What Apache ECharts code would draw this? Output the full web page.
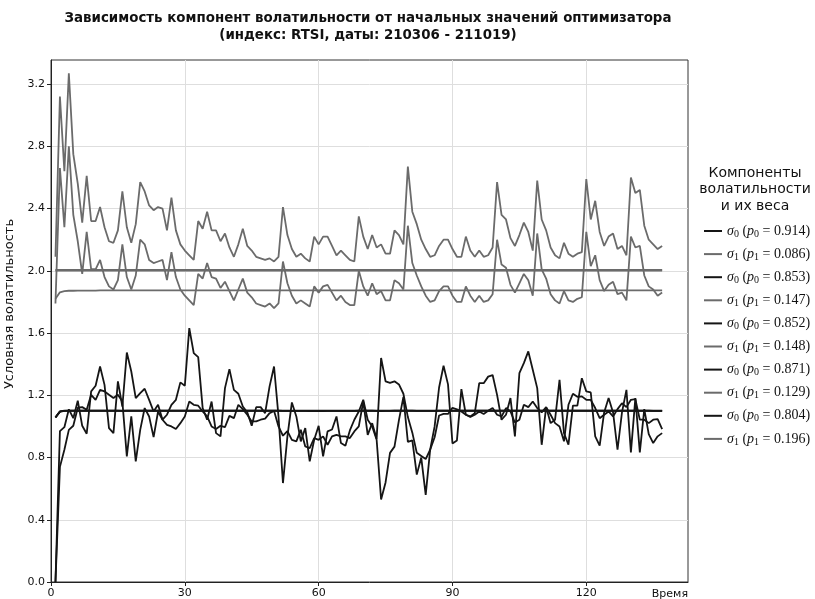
<!DOCTYPE html>
<html>
<head>
<meta charset="utf-8">
<script src="https://cdn.jsdelivr.net/npm/echarts@6/dist/echarts.min.js"></script>
<style>
  html, body { margin: 0; padding: 0; background: #ffffff; }
  #chart { width: 815px; height: 599px; }
</style>
</head>
<body>
<div id="chart"></div>
<script>
// Axis ticks
const xTicks = [0, 30, 60, 90, 120];
const yTicks = [0, 0.4, 0.8, 1.2, 1.6, 2.0, 2.4, 2.8, 3.2];

// Component weights per optimizer start
const weightsP0 = ['0.914', '0.853', '0.852', '0.871', '0.804'];
const weightsP1 = ['0.086', '0.147', '0.148', '0.129', '0.196'];

// σ0, run 1 (p0 = 0.914)
const sigma0Run1 = [
  1.057,1.095,1.100,1.101,1.101,1.102,1.101,1.101,1.101,1.102,
  1.102,1.101,1.101,1.101,1.101,1.100,1.101,1.101,1.101,1.101,
  1.101,1.101,1.101,1.101,1.101,1.101,1.101,1.102,1.102,1.102,
  1.102,1.102,1.102,1.101,1.101,1.101,1.101,1.101,1.101,1.101,
  1.101,1.101,1.101,1.101,1.101,1.101,1.101,1.101,1.101,1.102,
  1.101,1.100,1.100,1.100,1.100,1.100,1.100,1.099,1.099,1.100,
  1.099,1.100,1.100,1.100,1.100,1.100,1.100,1.100,1.101,1.101,
  1.101,1.101,1.100,1.099,1.100,1.100,1.101,1.101,1.101,1.101,
  1.101,1.100,1.100,1.100,1.100,1.100,1.101,1.101,1.101,1.101,
  1.101,1.101,1.101,1.101,1.101,1.101,1.101,1.102,1.102,1.101,
  1.101,1.101,1.101,1.101,1.101,1.102,1.102,1.102,1.101,1.101,
  1.101,1.101,1.101,1.101,1.101,1.101,1.101,1.101,1.102,1.101,
  1.101,1.101,1.101,1.101,1.101,1.101,1.101,1.101,1.101,1.101,
  1.101,1.101,1.101,1.101,1.100,1.100,1.100
];
// σ1, run 1 (p1 = 0.086)
const sigma1Run1 = [
  2.006,2.006,2.006,2.006,2.006,2.006,2.006,2.006,2.006,2.006,
  2.006,2.006,2.006,2.006,2.006,2.006,2.006,2.006,2.006,2.006,
  2.006,2.006,2.006,2.006,2.006,2.006,2.006,2.006,2.006,2.006,
  2.006,2.006,2.006,2.006,2.006,2.006,2.006,2.006,2.006,2.006,
  2.006,2.006,2.006,2.006,2.006,2.006,2.006,2.006,2.006,2.006,
  2.006,2.006,2.006,2.006,2.006,2.006,2.006,2.006,2.006,2.006,
  2.006,2.006,2.006,2.006,2.006,2.006,2.006,2.006,2.006,2.006,
  2.006,2.006,2.006,2.006,2.006,2.006,2.006,2.006,2.006,2.006,
  2.006,2.006,2.006,2.006,2.006,2.006,2.006,2.006,2.006,2.006,
  2.006,2.006,2.006,2.006,2.006,2.006,2.006,2.006,2.006,2.006,
  2.006,2.006,2.006,2.006,2.006,2.006,2.006,2.006,2.006,2.006,
  2.006,2.006,2.006,2.006,2.006,2.006,2.006,2.006,2.006,2.006,
  2.006,2.006,2.006,2.006,2.006,2.006,2.006,2.006,2.006,2.006,
  2.006,2.006,2.006,2.006,2.006,2.006,2.006
];

// σ0, run 2 (p0 = 0.853)
const sigma0Run2 = [
  0,0.97,0.995,1.11,1.053,1.165,1.004,0.953,1.225,1.261,
  1.385,1.267,0.989,0.957,1.289,1.128,1.475,1.353,1.182,1.214,
  1.242,1.171,1.096,1.139,1.043,1.075,1.139,1.171,1.283,1.261,
  1.632,1.471,1.445,1.118,1.043,1.16,0.957,0.936,1.246,1.368,
  1.235,1.21,1.128,1.09,1.004,1.124,1.124,1.085,1.257,1.385,
  1.064,0.636,0.936,1.154,1.064,0.904,0.989,0.775,0.914,1.004,
  0.807,0.968,0.98,1.064,0.893,0.876,0.974,1.043,1.096,1.171,
  1.043,1.0,0.914,0.53,0.64,0.83,0.87,1.04,1.19,0.9,
  0.91,0.69,0.8,0.56,0.85,1.0,1.25,1.39,1.27,0.89,
  0.91,1.24,1.075,1.064,1.085,1.278,1.278,1.32,1.33,1.203,
  1.043,1.075,1.182,0.936,1.342,1.407,1.482,1.364,1.246,0.882,
  1.124,1.021,1.043,1.3,0.957,0.882,1.133,1.133,1.31,1.225,
  1.218,0.936,0.876,1.09,1.182,1.09,0.85,1.09,1.235,0.833,
  1.182,0.833,1.111,0.95,0.893,0.936,0.957
];
// σ1, run 2 (p1 = 0.147)
const sigma1Run2 = [
  2.09,3.12,2.64,3.27,2.75,2.56,2.31,2.61,2.32,2.32,
  2.41,2.28,2.19,2.18,2.26,2.51,2.28,2.18,2.30,2.57,
  2.51,2.42,2.39,2.41,2.40,2.26,2.47,2.26,2.17,2.13,
  2.10,2.07,2.32,2.27,2.38,2.26,2.26,2.19,2.24,2.15,
  2.09,2.17,2.27,2.16,2.13,2.09,2.08,2.07,2.08,2.06,
  2.09,2.41,2.23,2.14,2.09,2.11,2.08,2.06,2.22,2.17,
  2.22,2.22,2.16,2.10,2.13,2.10,2.07,2.06,2.35,2.22,
  2.14,2.23,2.15,2.17,2.11,2.11,2.26,2.23,2.17,2.67,
  2.38,2.30,2.20,2.14,2.09,2.10,2.16,2.20,2.20,2.14,
  2.09,2.09,2.22,2.13,2.09,2.13,2.09,2.10,2.15,2.57,
  2.36,2.33,2.21,2.16,2.23,2.31,2.25,2.13,2.58,2.33,
  2.26,2.15,2.10,2.08,2.18,2.11,2.09,2.11,2.12,2.59,
  2.33,2.45,2.25,2.16,2.22,2.24,2.14,2.16,2.10,2.60,
  2.50,2.52,2.29,2.20,2.17,2.14,2.16
];

// σ0, run 3 (p0 = 0.852)
const sigma0Run3 = [
  0,0.74,0.85,0.978,1.004,1.12,1.124,1.107,1.203,1.171,
  1.235,1.225,1.203,1.182,1.203,1.16,0.807,1.064,0.775,0.978,
  1.118,1.064,0.931,1.096,1.043,1.01,1.0,0.983,1.021,1.064,
  1.16,1.139,1.133,1.096,1.064,1.0,0.983,1.004,0.995,1.068,
  1.053,1.139,1.111,1.075,1.032,1.032,1.043,1.05,1.085,1.1,
  1.0,0.94,0.97,0.914,0.904,0.978,0.871,0.86,0.925,0.914,
  0.936,0.882,0.936,0.946,0.936,0.936,0.925,0.968,1.0,1.16,
  0.946,1.021,0.92,1.44,1.29,1.28,1.29,1.27,1.21,1.06,
  0.96,0.83,0.81,0.79,0.85,0.93,1.07,1.08,1.08,1.12,
  1.11,1.096,1.075,1.06,1.075,1.096,1.08,1.1,1.118,1.075,
  1.064,1.118,1.096,1.025,1.043,1.139,1.124,1.16,1.118,1.09,
  1.124,1.075,1.021,1.0,0.904,1.139,1.21,1.19,1.193,1.171,
  1.171,1.118,1.053,1.075,1.096,1.064,1.111,1.149,1.124,1.171,
  1.175,1.043,1.043,1.021,1.043,1.047,0.983
];
// σ1, run 3 (p1 = 0.148)
const sigma1Run3 = [
  1.79,2.66,2.28,2.80,2.36,2.19,1.98,2.25,2.01,2.01,
  2.07,1.96,1.90,1.88,1.94,2.17,1.96,1.88,1.97,2.20,
  2.17,2.07,2.05,2.06,2.07,1.94,2.12,1.96,1.88,1.84,
  1.81,1.78,1.98,1.95,2.05,1.96,1.95,1.89,1.93,1.87,
  1.81,1.88,1.95,1.86,1.83,1.79,1.78,1.77,1.79,1.76,
  1.79,2.06,1.92,1.84,1.79,1.81,1.79,1.77,1.90,1.86,
  1.90,1.91,1.86,1.81,1.84,1.80,1.78,1.78,2.00,1.90,
  1.84,1.92,1.85,1.87,1.81,1.81,1.94,1.92,1.88,2.29,
  2.05,1.97,1.90,1.84,1.80,1.81,1.87,1.90,1.90,1.84,
  1.80,1.80,1.90,1.84,1.80,1.84,1.80,1.81,1.85,2.20,
  2.04,2.02,1.91,1.86,1.92,1.98,1.94,1.84,2.24,2.01,
  1.95,1.85,1.81,1.79,1.87,1.81,1.80,1.82,1.83,2.25,
  2.03,2.10,1.94,1.87,1.91,1.93,1.85,1.86,1.81,2.22,
  2.15,2.16,1.97,1.90,1.88,1.84,1.86
];

// σ0, run 4 (p0 = 0.871)
const sigma0Run4 = [
  1.058,1.096,1.101,1.101,1.101,1.101,1.101,1.101,1.101,1.101,
  1.101,1.101,1.101,1.101,1.101,1.101,1.101,1.101,1.101,1.101,
  1.101,1.101,1.101,1.101,1.101,1.101,1.101,1.101,1.101,1.101,
  1.101,1.101,1.101,1.101,1.101,1.101,1.101,1.101,1.101,1.101,
  1.101,1.101,1.101,1.101,1.101,1.101,1.101,1.101,1.101,1.101,
  1.101,1.101,1.101,1.101,1.101,1.101,1.101,1.101,1.101,1.101,
  1.101,1.101,1.101,1.101,1.101,1.101,1.101,1.101,1.101,1.101,
  1.101,1.101,1.101,1.101,1.101,1.101,1.101,1.101,1.101,1.101,
  1.101,1.101,1.101,1.101,1.101,1.101,1.101,1.101,1.101,1.101,
  1.101,1.101,1.101,1.101,1.101,1.101,1.101,1.101,1.101,1.101,
  1.101,1.101,1.101,1.101,1.101,1.101,1.101,1.101,1.101,1.101,
  1.101,1.101,1.101,1.101,1.101,1.101,1.101,1.101,1.101,1.101,
  1.101,1.101,1.101,1.101,1.101,1.101,1.101,1.101,1.101,1.101,
  1.101,1.101,1.101,1.101,1.101,1.101,1.101
];
// σ1, run 4 (p1 = 0.129)
const sigma1Run4 = [
  2.002,2.002,2.002,2.002,2.002,2.002,2.002,2.002,2.002,2.002,
  2.002,2.002,2.002,2.002,2.002,2.002,2.002,2.002,2.002,2.002,
  2.002,2.002,2.002,2.002,2.002,2.002,2.002,2.002,2.002,2.002,
  2.002,2.002,2.002,2.002,2.002,2.002,2.002,2.002,2.002,2.002,
  2.002,2.002,2.002,2.002,2.002,2.002,2.002,2.002,2.002,2.002,
  2.002,2.002,2.002,2.002,2.002,2.002,2.002,2.002,2.002,2.002,
  2.002,2.002,2.002,2.002,2.002,2.002,2.002,2.002,2.002,2.002,
  2.002,2.002,2.002,2.002,2.002,2.002,2.002,2.002,2.002,2.002,
  2.002,2.002,2.002,2.002,2.002,2.002,2.002,2.002,2.002,2.002,
  2.002,2.002,2.002,2.002,2.002,2.002,2.002,2.002,2.002,2.002,
  2.002,2.002,2.002,2.002,2.002,2.002,2.002,2.002,2.002,2.002,
  2.002,2.002,2.002,2.002,2.002,2.002,2.002,2.002,2.002,2.002,
  2.002,2.002,2.002,2.002,2.002,2.002,2.002,2.002,2.002,2.002,
  2.002,2.002,2.002,2.002,2.002,2.002,2.002
];

// σ0, run 5 (p0 = 0.804)
const sigma0Run5 = [
  1.057,1.095,1.100,1.100,1.100,1.100,1.100,1.100,1.100,1.100,
  1.100,1.100,1.100,1.100,1.100,1.100,1.100,1.100,1.100,1.100,
  1.100,1.100,1.100,1.100,1.100,1.100,1.100,1.100,1.100,1.100,
  1.100,1.100,1.100,1.100,1.100,1.100,1.100,1.100,1.100,1.100,
  1.100,1.100,1.100,1.100,1.100,1.100,1.100,1.100,1.100,1.100,
  1.100,1.100,1.100,1.100,1.100,1.100,1.100,1.100,1.100,1.100,
  1.100,1.100,1.100,1.100,1.100,1.100,1.100,1.100,1.100,1.100,
  1.100,1.100,1.100,1.100,1.100,1.100,1.100,1.100,1.100,1.100,
  1.100,1.100,1.100,1.100,1.100,1.100,1.100,1.100,1.100,1.100,
  1.100,1.100,1.100,1.100,1.100,1.100,1.100,1.100,1.100,1.100,
  1.100,1.100,1.100,1.100,1.100,1.100,1.100,1.100,1.100,1.100,
  1.100,1.100,1.100,1.100,1.100,1.100,1.100,1.100,1.100,1.100,
  1.100,1.100,1.100,1.100,1.100,1.100,1.100,1.100,1.100,1.100,
  1.100,1.100,1.100,1.100,1.100,1.100,1.100
];
// σ1, run 5 (p1 = 0.196)
const sigma1Run5 = [
  1.820,1.862,1.870,1.872,1.872,1.873,1.873,1.873,1.873,1.873,
  1.874,1.874,1.874,1.874,1.874,1.874,1.874,1.874,1.874,1.874,
  1.874,1.874,1.874,1.874,1.874,1.874,1.874,1.874,1.874,1.874,
  1.874,1.874,1.874,1.874,1.874,1.874,1.874,1.874,1.874,1.874,
  1.874,1.874,1.874,1.874,1.874,1.874,1.874,1.874,1.874,1.874,
  1.874,1.874,1.874,1.874,1.874,1.874,1.874,1.874,1.874,1.874,
  1.874,1.874,1.874,1.874,1.874,1.874,1.874,1.874,1.874,1.874,
  1.874,1.874,1.874,1.874,1.874,1.874,1.874,1.874,1.874,1.874,
  1.874,1.874,1.874,1.874,1.874,1.874,1.874,1.874,1.874,1.874,
  1.874,1.874,1.874,1.874,1.874,1.874,1.874,1.874,1.874,1.874,
  1.874,1.874,1.874,1.874,1.874,1.874,1.874,1.874,1.874,1.874,
  1.874,1.874,1.874,1.874,1.874,1.874,1.874,1.874,1.874,1.874,
  1.874,1.874,1.874,1.874,1.874,1.874,1.874,1.874,1.874,1.874,
  1.874,1.874,1.874,1.874,1.874,1.874,1.874
];

const runsSigma0 = [sigma0Run1, sigma0Run2, sigma0Run3, sigma0Run4, sigma0Run5];
const runsSigma1 = [sigma1Run1, sigma1Run2, sigma1Run3, sigma1Run4, sigma1Run5];

const COLOR_S0 = '#151515';
const COLOR_S1 = '#6b6b6b';
const FONT = 'DejaVu Sans';
const MATH_FONT = 'Liberation Serif';

// time index starts at 1
const toPoints = arr => arr.map((v, i) => [i + 1, v]);

const series = [];
const legendMeta = {};
for (let r = 0; r < 5; r++) {
  const pairs = [
    { comp: 0, w: weightsP0[r], data: runsSigma0[r], color: COLOR_S0 },
    { comp: 1, w: weightsP1[r], data: runsSigma1[r], color: COLOR_S1 }
  ];
  pairs.forEach(p => {
    const name = 'σ' + p.comp + ' (p' + p.comp + ' = ' + p.w + ')';
    legendMeta[name] = p;
    series.push({
      name,
      type: 'line',
      data: toPoints(p.data),
      showSymbol: false,
      symbol: 'none',
      silent: true,
      animation: false,
      color: p.color,
      itemStyle: { color: p.color },
      lineStyle: { color: p.color, width: 1.8 },
      emphasis: { disabled: true }
    });
  });
}

const chart = echarts.init(document.getElementById('chart'), null, { renderer: 'canvas' });

chart.setOption({
  backgroundColor: '#ffffff',
  animation: false,
  textStyle: { fontFamily: FONT, color: '#111' },
  title: [
    {
      text: 'Зависимость компонент волатильности от начальных значений оптимизатора\n(индекс: RTSI, даты: 210306 - 211019)',
      left: 368, top: 10, padding: 0, textAlign: 'center',
      textStyle: { fontFamily: FONT, fontSize: 13.4, fontWeight: 'bold', lineHeight: 17, color: '#111' }
    },
    {
      text: 'Компоненты\nволатильности\nи их веса',
      left: 755, top: 165, padding: 0, textAlign: 'center',
      textStyle: { fontFamily: FONT, fontSize: 14, fontWeight: 'normal', lineHeight: 16.5, color: '#111' }
    }
  ],
  legend: {
    orient: 'vertical',
    left: 704, top: 223, padding: 0,
    icon: 'rect', itemWidth: 18, itemHeight: 2, itemGap: 7.1,
    selectedMode: false,
    data: series.map(s => s.name),
    formatter: name => {
      const m = legendMeta[name];
      return '{i|σ}{s|' + m.comp + '}{n| (}{i|p}{s|' + m.comp + '}{n| = ' + m.w + ')}';
    },
    textStyle: {
      fontFamily: MATH_FONT, fontSize: 14, lineHeight: 16, color: '#111',
      rich: {
        n: { fontFamily: MATH_FONT, fontSize: 14, lineHeight: 16, color: '#111' },
        i: { fontFamily: MATH_FONT, fontStyle: 'italic', fontSize: 14, lineHeight: 16, color: '#111' },
        s: { fontFamily: MATH_FONT, fontSize: 10, lineHeight: 10, verticalAlign: 'bottom', color: '#111' }
      }
    }
  },
  grid: {
    left: 51, right: 127, top: 60, bottom: 17,
    show: true, borderColor: '#333', borderWidth: 1,
    containLabel: false, outerBoundsMode: 'none'
  },
  xAxis: {
    type: 'value',
    min: 0, max: 142.8, interval: 30,
    name: 'Время', nameLocation: 'end', nameGap: 0,
    nameTextStyle: { fontFamily: FONT, fontSize: 11, color: '#111', align: 'right', verticalAlign: 'top', padding: [7, 0, 0, 0] },
    axisLine: { show: true, onZero: false, lineStyle: { color: '#222', width: 1 } },
    axisTick: { show: true, inside: false, length: 4, customValues: xTicks, lineStyle: { color: '#222' } },
    axisLabel: { customValues: xTicks, margin: 6, fontFamily: FONT, fontSize: 11, color: '#111', formatter: v => String(v) },
    splitLine: { show: true, lineStyle: { color: '#dedede', width: 1 } }
  },
  yAxis: {
    type: 'value',
    min: 0, max: 3.355, interval: 0.4,
    name: 'Условная волатильность', nameLocation: 'middle', nameGap: 30,
    nameTextStyle: { fontFamily: FONT, fontSize: 13, color: '#111', padding: [0, 0, 0, 34] },
    axisLine: { show: true, onZero: false, lineStyle: { color: '#222', width: 1 } },
    axisTick: { show: true, inside: false, length: 4, customValues: yTicks, lineStyle: { color: '#222' } },
    axisLabel: { customValues: yTicks, margin: 6, fontFamily: FONT, fontSize: 11, color: '#111', formatter: v => v.toFixed(1) },
    splitLine: { show: true, lineStyle: { color: '#dedede', width: 1 } }
  },
  series
});
</script>
</body>
</html>
